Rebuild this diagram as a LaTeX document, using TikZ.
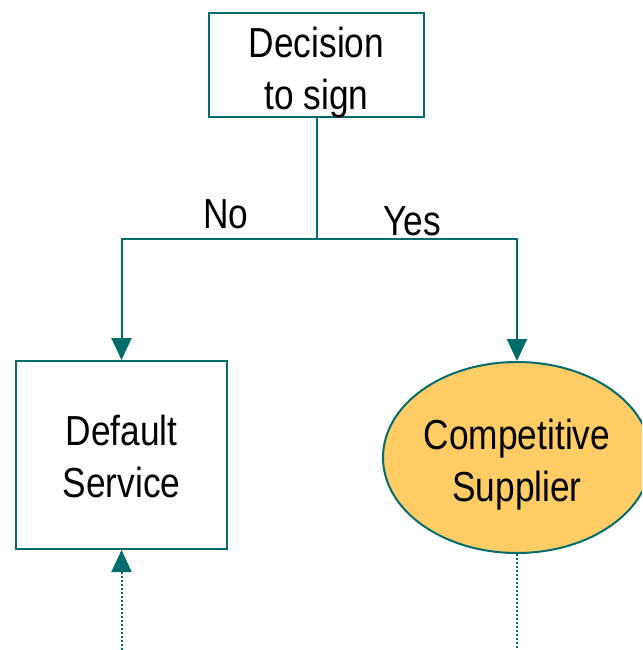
\documentclass[tikz,border=0pt]{standalone}
\usepackage{fontspec}
\setmainfont{Liberation Sans}[FakeStretch=0.84]
\usetikzlibrary{arrows.meta,shapes.geometric}
\definecolor{teal}{RGB}{0,108,108}
\definecolor{gold}{RGB}{255,204,102}
\tikzset{
  txt/.style={align=center, inner sep=0pt, font=\fontsize{42}{52}\selectfont},
  boxnode/.style={draw=teal, line width=2pt, fill=white, inner sep=0pt},
  ellnode/.style={ellipse, draw=teal, line width=2pt, fill=gold, inner sep=0pt},
  link/.style={draw=teal, line width=2pt, -{Triangle[width=20pt,length=22pt]}},
  plain/.style={draw=teal, line width=2pt},
  dots/.style={draw=teal, line width=2pt, dash pattern=on 2pt off 2pt},
  lbl/.style={anchor=base, inner sep=0pt, font=\fontsize{42}{52}\selectfont}
}
\begin{document}
\begin{tikzpicture}[x=1pt,y=-1pt]
\useasboundingbox (0,0) rectangle (642,650);
\clip (0,0) rectangle (642,650);
\node[boxnode, minimum width=215pt, minimum height=104pt,
  label={[txt, yshift=-8pt]center:Decision\\to sign}] (dec) at (316.5,65) {};
\node[boxnode, minimum width=211pt, minimum height=188pt,
  label={[txt, yshift=-1.5pt]center:Default\\Service}] (def) at (121.5,455) {};
\node[ellnode, minimum width=268pt, minimum height=191pt,
  label={[txt, yshift=-7pt]center:Competitive\\Supplier}] (comp) at (517,457.5) {};
\coordinate (j) at (316.5,239);
\coordinate (lb) at (121.5,650);
\coordinate (rb) at (517,650);
\draw[plain] (dec.south) -- (j);
\draw[link] (j) -| (def.north);
\draw[link] (j) -| (comp.north);
\draw[dots, {Triangle[width=20pt,length=22pt]}-] (def.south) -- (lb);
\draw[dots] (comp.south) -- (rb);
\node[lbl] (no) at (226,228) {No};
\node[lbl] (yes) at (412,235) {Yes};
\end{tikzpicture}
\end{document}
